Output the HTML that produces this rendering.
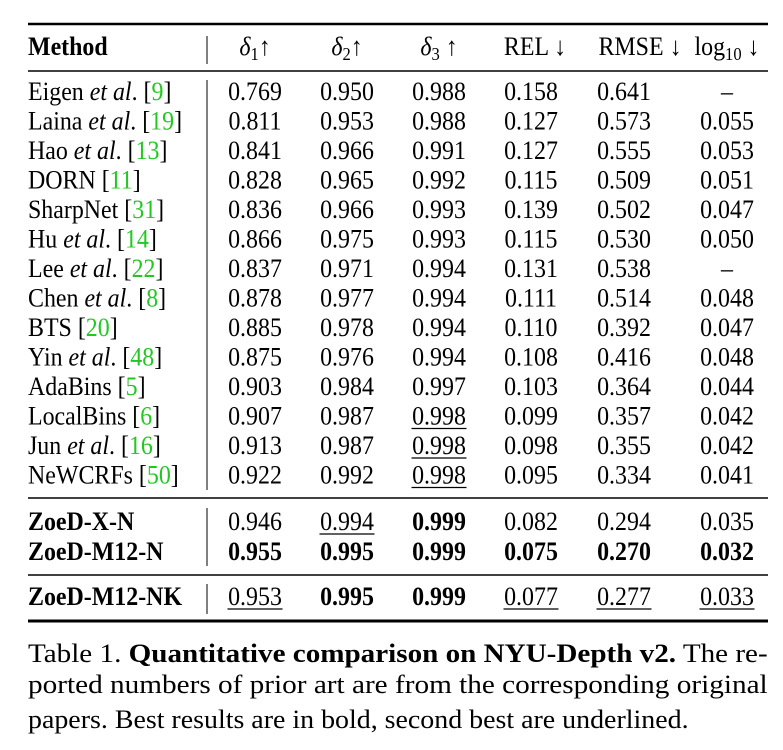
<!DOCTYPE html>
<html><head><meta charset="utf-8"><style>
html,body{margin:0;padding:0;background:#fff;}
svg{display:block;font-family:"Liberation Serif",serif;}
</style></head><body>
<svg width="783" height="750" viewBox="0 0 783 750" xmlns="http://www.w3.org/2000/svg">
<rect width="783" height="750" fill="#fff"/>
<g id="rules"></g>
<g id="cells" font-size="26" fill="#000"></g>
<g font-size="26" fill="#000">
<text transform="translate(28,662) scale(0.92,1)" x="0" y="0" textLength="804" lengthAdjust="spacingAndGlyphs">Table 1.  <tspan font-weight="bold">Quantitative comparison on NYU-Depth v2.</tspan> The re-</text>
<text transform="translate(28,693) scale(0.92,1)" x="0" y="0" textLength="804" lengthAdjust="spacingAndGlyphs">ported numbers of prior art are from the corresponding original</text>
<text transform="translate(28,728) scale(0.92,1)" x="0" y="0" textLength="718" lengthAdjust="spacingAndGlyphs">papers. Best results are in bold, second best are underlined.</text>
</g>
</svg>
<script>
const methods=[["Eigen ","et al",". [","9","]"],["Laina ","et al",". [","19","]"],["Hao ","et al",". [","13","]"],["DORN [","","","11","]"],["SharpNet [","","","31","]"],["Hu ","et al",". [","14","]"],["Lee ","et al",". [","22","]"],["Chen ","et al",". [","8","]"],["BTS [","","","20","]"],["Yin ","et al",". [","48","]"],["AdaBins [","","","5","]"],["LocalBins [","","","6","]"],["Jun ","et al",". [","16","]"],["NeWCRFs [","","","50","]"]];
const d1=["0.769","0.811","0.841","0.828","0.836","0.866","0.837","0.878","0.885","0.875","0.903","0.907","0.913","0.922"];
const d2=["0.950","0.953","0.966","0.965","0.966","0.975","0.971","0.977","0.978","0.976","0.984","0.987","0.987","0.992"];
const d3=["0.988","0.988","0.991","0.992","0.993","0.993","0.994","0.994","0.994","0.994","0.997","0.998","0.998","0.998"];
const rel=["0.158","0.127","0.127","0.115","0.139","0.115","0.131","0.111","0.110","0.108","0.103","0.099","0.098","0.095"];
const rmse=["0.641","0.573","0.555","0.509","0.502","0.530","0.538","0.514","0.392","0.416","0.364","0.357","0.355","0.334"];
const lg=["–","0.055","0.053","0.051","0.047","0.050","–","0.048","0.047","0.048","0.044","0.042","0.042","0.041"];
const ours=[["ZoeD-X-N",["0.946","0.994","0.999","0.082","0.294","0.035"],"nubnnn"],["ZoeD-M12-N",["0.955","0.995","0.999","0.075","0.270","0.032"],"bbbbbb"],["ZoeD-M12-NK",["0.953","0.995","0.999","0.077","0.277","0.033"],"ubbuuu"]];
const underD3=[11,12,13];
const cx=[255,347,439,531,624,727];
const SX=0.92;
const NS="http://www.w3.org/2000/svg";
const cells=document.getElementById('cells'),rules=document.getElementById('rules');
function line(x1,y1,x2,y2,w,name){const l=document.createElementNS(NS,'line');l.setAttribute('x1',x1);l.setAttribute('y1',y1);l.setAttribute('x2',x2);l.setAttribute('y2',y2);l.setAttribute('stroke','#000');l.setAttribute('stroke-width',w);


rules.appendChild(l);return l;}
function txt(x,y,s,anchor,bold,name,html){const t=document.createElementNS(NS,'text');t.setAttribute('x',0);t.setAttribute('y',0);t.setAttribute('transform','translate('+x+','+y+') scale('+SX+',1)');t.setAttribute('text-anchor',anchor);if(bold)t.setAttribute('font-weight','bold');if(html)t.innerHTML=s;else t.textContent=s;


cells.appendChild(t);return t;}
line(28,24,768,24,2.5,'top-rule');
line(28,71,768,71,1.5,'header-rule');
line(28,498,768,498,1.5,'mid-rule');
line(28,575,768,575,1.5,'mid-rule-2');
line(28,621,768,621,3,'bottom-rule');
line(207,36,207,64,1,'header-divider');
line(207,80,207,490,1,'column-divider');
line(207,508,207,566,1,'ours-divider');
line(207,584,207,614,1,'nk-divider');
txt(28,55,'Method','start',true,'header-method');
txt(255,55,'<tspan font-style="italic">δ</tspan><tspan font-size="18" dy="5">1</tspan><tspan dy="-5">↑</tspan>','middle',false,'header-delta1',true);
txt(347,55,'<tspan font-style="italic">δ</tspan><tspan font-size="18" dy="5">2</tspan><tspan dy="-5">↑</tspan>','middle',false,'header-delta2',true);
txt(439,55,'<tspan font-style="italic">δ</tspan><tspan font-size="18" dy="5">3</tspan><tspan dy="-5"> ↑</tspan>','middle',false,'header-delta3',true);
txt(535,55,'REL ↓','middle',false,'header-rel');
txt(640,55,'RMSE ↓','middle',false,'header-rmse');
txt(727,55,'log<tspan font-size="18" dy="5">10</tspan><tspan dy="-5"> ↓</tspan>','middle',false,'header-log10',true);
function valueCell(x,y,s,bold,und,name){txt(x,y,s,'middle',bold,name);if(und){line(x-27.5,y+4,x+27.5,y+4,1.3,name+'-underline');}}
methods.forEach((m,i)=>{const y=100+i*29.5;
 txt(28,y,m[0]+(m[1]?'<tspan font-style="italic">'+m[1]+'</tspan>':'')+m[2]+'<tspan fill="#22c822">'+m[3]+'</tspan>'+m[4],'start',false,'method-name',true);
 const vals=[d1[i],d2[i],d3[i],rel[i],rmse[i],lg[i]];
 vals.forEach((v,j)=>valueCell(cx[j],y,v,false,j===2&&underD3.includes(i),'value-cell'));
});
const oy=[530,560,605];
ours.forEach((o,i)=>{const y=oy[i];
 txt(28,y,o[0],'start',true,'ours-method-name');
 o[1].forEach((v,j)=>valueCell(cx[j],y,v,o[2][j]==='b',o[2][j]==='u','ours-value-cell'));
});
</script>
</body></html>
